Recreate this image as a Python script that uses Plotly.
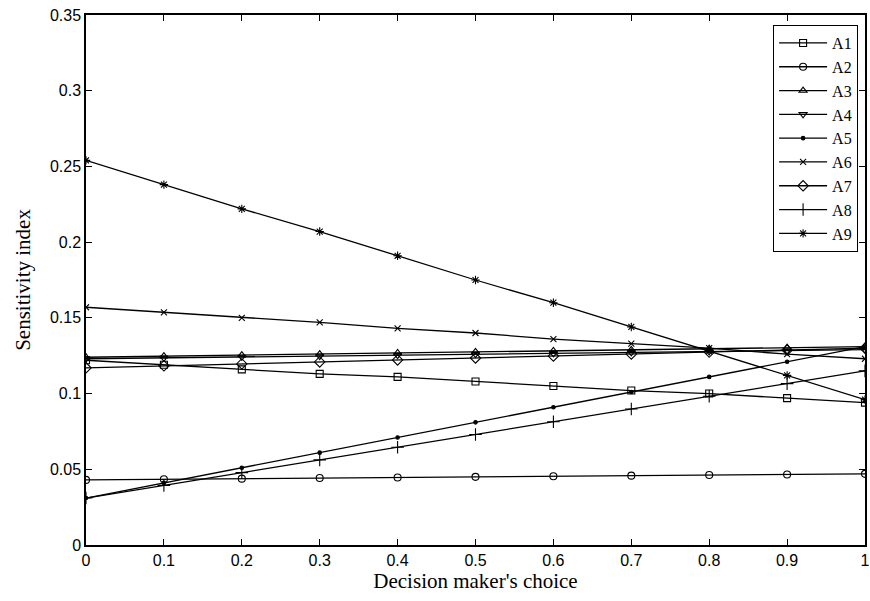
import plotly.graph_objects as go

x = [0, 0.1, 0.2, 0.3, 0.4, 0.5, 0.6, 0.7, 0.8, 0.9, 1.0]

A1 = [0.122, 0.119, 0.116, 0.113, 0.111, 0.108, 0.105, 0.102, 0.100, 0.097, 0.094]
A2 = [0.043, 0.0434, 0.0438, 0.0442, 0.0446, 0.045, 0.0454, 0.0458, 0.0462, 0.0466, 0.047]
A3 = [0.124, 0.1247, 0.1254, 0.1261, 0.1268, 0.1275, 0.1282, 0.1289, 0.1296, 0.1303, 0.131]
A4 = [0.123, 0.1236, 0.1242, 0.1248, 0.1254, 0.126, 0.1266, 0.1272, 0.1278, 0.1284, 0.129]
A5 = [0.031, 0.041, 0.051, 0.061, 0.071, 0.081, 0.091, 0.101, 0.111, 0.121, 0.131]
A6 = [0.157, 0.1536, 0.150, 0.147, 0.143, 0.140, 0.136, 0.133, 0.130, 0.126, 0.123]
A7 = [0.117, 0.1183, 0.1196, 0.1209, 0.1222, 0.1235, 0.1248, 0.1261, 0.1274, 0.1287, 0.130]
A8 = [0.031, 0.0394, 0.0478, 0.0562, 0.0646, 0.073, 0.0814, 0.0898, 0.0982, 0.1066, 0.115]
A9 = [0.254, 0.238, 0.222, 0.207, 0.191, 0.175, 0.160, 0.144, 0.128, 0.112, 0.096]

names = ["A1", "A2", "A3", "A4", "A5", "A6", "A7", "A8", "A9"]
series = [A1, A2, A3, A4, A5, A6, A7, A8, A9]
symbols = ["square-open", "circle-open", "triangle-up-open", "triangle-down-open",
           "circle", "x-thin-open", "diamond-open", "cross-thin-open", "asterisk-open"]
sizes = [7, 7, 7, 7, 3.5, 6, 8, 9, 7]

fig = go.Figure()
for n, s, sym, sz in zip(names, series, symbols, sizes):
    fig.add_trace(go.Scatter(
        x=x, y=s, name=n, mode="lines+markers",
        line=dict(color="black", width=1.3),
        marker=dict(symbol=sym, size=sz, color="black",
                    line=dict(color="black", width=1.1)),
    ))

axis_common = dict(
    showline=True, linecolor="black", linewidth=1.5, mirror="ticks",
    ticks="inside", ticklen=6, tickcolor="black", tickwidth=1,
    showgrid=False, zeroline=False, automargin=False,
    tickfont=dict(family="Liberation Sans", size=16, color="black"),
)

fig.update_layout(
    width=870, height=601,
    margin=dict(l=86, r=5, t=15, b=56),
    paper_bgcolor="white", plot_bgcolor="white",
    xaxis=dict(range=[0, 1], tickvals=[0, 0.1, 0.2, 0.3, 0.4, 0.5, 0.6, 0.7, 0.8, 0.9, 1],
               ticktext=["0", "0.1", "0.2", "0.3", "0.4", "0.5", "0.6", "0.7", "0.8", "0.9", "1"],
               title=dict(text="Decision maker's choice",
                          font=dict(family="Liberation Serif", size=21, color="black"),
                          standoff=2),
               **axis_common),
    yaxis=dict(range=[0, 0.35], tickvals=[0, 0.05, 0.1, 0.15, 0.2, 0.25, 0.3, 0.35],
               ticktext=["0", "0.05", "0.1", "0.15", "0.2", "0.25", "0.3", "0.35"],
               title=dict(text="Sensitivity index",
                          font=dict(family="Liberation Serif", size=21, color="black"),
                          standoff=14),
               **axis_common),
    legend=dict(x=0.882, y=0.981, xanchor="left", yanchor="top",
                bgcolor="white", bordercolor="black", borderwidth=1,
                font=dict(family="Liberation Serif", size=16, color="black"),
                tracegroupgap=0, itemwidth=48),
    showlegend=True,
)

fig.write_html("out.html", config={"displayModeBar": False},
               post_script="document.body.style.margin='0';")
